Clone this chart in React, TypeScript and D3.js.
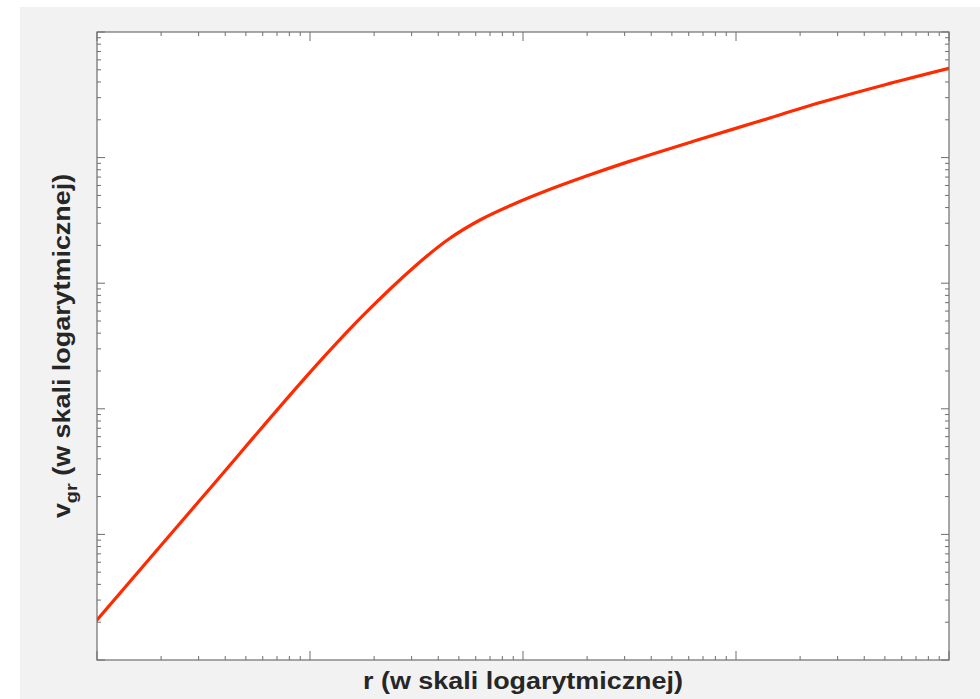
import React from "react";
import * as d3 from "d3";

// Curve (log-log): radius r and rotation speed v_gr
const radius = [1, 3.16, 10, 17.8, 31.6, 44.7, 63.1, 89.1, 126, 200, 316, 631, 1259, 2512, 5012, 10000];
const speed = [2.08, 20.2, 195, 556, 1396, 2239, 3199, 4217, 5370, 7161, 9333, 13490, 19275, 27542, 38019, 51286];

const xDomain = [1, 10000];
const yDomain = [1, 100000];

const xLabel = "r (w skali logarytmicznej)";
const yLabelMain = "v";
const yLabelSub = "gr";
const yLabelRest = " (w skali logarytmicznej)";

const W = 980;
const H = 699;
const M = { left: 97, right: 949, top: 32, bottom: 660 };

export default function App() {
  const x = d3.scaleLog().domain(xDomain).range([M.left, M.right]);
  const y = d3.scaleLog().domain(yDomain).range([M.bottom, M.top]);
  const xt = x.ticks();
  const yt = y.ticks();
  const isMajor = (v: number) => Math.abs(Math.log10(v) - Math.round(Math.log10(v))) < 1e-9;
  const pts = radius.map((r, i) => [r, speed[i]] as [number, number]);
  const line = d3
    .line<[number, number]>()
    .x((d) => x(d[0]))
    .y((d) => y(d[1]))
    .curve(d3.curveCatmullRom.alpha(0.5));
  const axisColor = "#6e6e6e";
  const font = "'Liberation Sans', Arial, Helvetica, sans-serif";
  const sx = 1.17;
  return (
    <svg
      width={W}
      height={H}
      style={{ position: "absolute", left: 0, top: 0, background: "#fff" }}
    >
      <rect x={20} y={7} width={W - 20} height={H - 7} fill="#f2f2f2" />
      <rect x={M.left} y={M.top} width={M.right - M.left} height={M.bottom - M.top} fill="#fff" />
      <defs>
        <clipPath id="plotclip">
          <rect x={M.left} y={M.top} width={M.right - M.left} height={M.bottom - M.top} />
        </clipPath>
      </defs>
      <path
        d={line(pts) || ""}
        fill="none"
        stroke="#ff2a00"
        strokeWidth={3.2}
        strokeLinecap="round"
        strokeLinejoin="round"
        clipPath="url(#plotclip)"
      />
      {xt.map((t, i) => {
        const len = isMajor(t) ? 9 : 4;
        const px = x(t);
        return (
          <g key={"x" + i} stroke={axisColor} strokeWidth={1}>
            <line x1={px} x2={px} y1={M.bottom} y2={M.bottom - len} />
            <line x1={px} x2={px} y1={M.top} y2={M.top + len} />
          </g>
        );
      })}
      {yt.map((t, i) => {
        const len = isMajor(t) ? 8 : 4;
        const py = y(t);
        return (
          <g key={"y" + i} stroke={axisColor} strokeWidth={1}>
            <line x1={M.left} x2={M.left + len} y1={py} y2={py} />
            <line x1={M.right} x2={M.right - len} y1={py} y2={py} />
          </g>
        );
      })}
      <rect
        x={M.left}
        y={M.top}
        width={M.right - M.left}
        height={M.bottom - M.top}
        fill="none"
        stroke={axisColor}
        strokeWidth={1.2}
      />
      <text
        transform={`translate(${(M.left + M.right) / 2}, 689) scale(${sx}, 1)`}
        textAnchor="middle"
        fontFamily={font}
        fontWeight="bold"
        fontSize={23}
        fill="#262626"
      >
        {xLabel}
      </text>
      <text
        transform={`translate(70, ${(M.top + M.bottom) / 2}) rotate(-90) scale(${sx}, 1)`}
        textAnchor="middle"
        fontFamily={font}
        fontWeight="bold"
        fontSize={23}
        fill="#262626"
      >
        <tspan>{yLabelMain}</tspan>
        <tspan dy={7} fontSize={17}>{yLabelSub}</tspan>
        <tspan dy={-7}>{yLabelRest}</tspan>
      </text>
    </svg>
  );
}
